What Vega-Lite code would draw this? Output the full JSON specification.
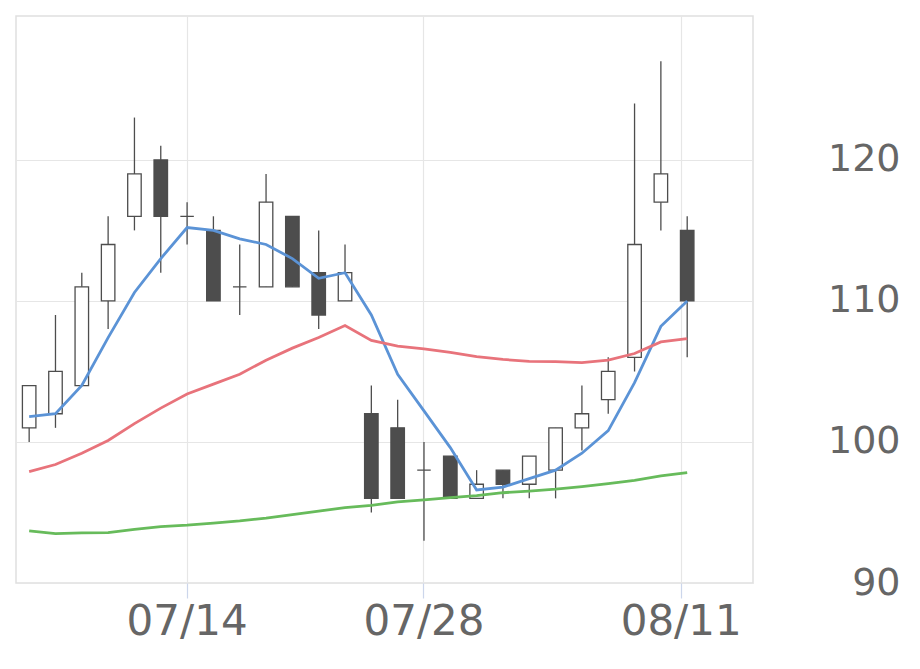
{
  "$schema": "https://vega.github.io/schema/vega-lite/v6.json",
  "width": 737,
  "height": 567,
  "padding": {"left": 16, "top": 16, "right": 0, "bottom": 12},
  "background": "white",
  "config": {"view": {"stroke": "#e0e0e0", "strokeWidth": 1.5}, "font": "DejaVu Sans"},
  "data": {"values": [
    {"d": "07/04", "o": 101, "h": 104, "l": 100, "c": 104, "ma5": 101.8, "ma25": 97.9, "ma75": 93.7},
    {"d": "07/07", "o": 102, "h": 109, "l": 101, "c": 105, "ma5": 102.0, "ma25": 98.4, "ma75": 93.5},
    {"d": "07/08", "o": 104, "h": 112, "l": 104, "c": 111, "ma5": 104.0, "ma25": 99.2, "ma75": 93.55},
    {"d": "07/09", "o": 110, "h": 116, "l": 108, "c": 114, "ma5": 107.4, "ma25": 100.1, "ma75": 93.57},
    {"d": "07/10", "o": 116, "h": 123, "l": 115, "c": 119, "ma5": 110.6, "ma25": 101.3, "ma75": 93.8},
    {"d": "07/11", "o": 120, "h": 121, "l": 112, "c": 116, "ma5": 113.0, "ma25": 102.4, "ma75": 94.0},
    {"d": "07/14", "o": 116, "h": 117, "l": 114, "c": 116, "ma5": 115.2, "ma25": 103.4, "ma75": 94.1},
    {"d": "07/15", "o": 115, "h": 116, "l": 110, "c": 110, "ma5": 115.0, "ma25": 104.1, "ma75": 94.25},
    {"d": "07/16", "o": 111, "h": 114, "l": 109, "c": 111, "ma5": 114.4, "ma25": 104.8, "ma75": 94.4},
    {"d": "07/17", "o": 111, "h": 119, "l": 111, "c": 117, "ma5": 114.0, "ma25": 105.8, "ma75": 94.6},
    {"d": "07/18", "o": 116, "h": 116, "l": 111, "c": 111, "ma5": 113.0, "ma25": 106.65, "ma75": 94.85},
    {"d": "07/22", "o": 112, "h": 115, "l": 108, "c": 109, "ma5": 111.6, "ma25": 107.4, "ma75": 95.1},
    {"d": "07/23", "o": 110, "h": 114, "l": 110, "c": 112, "ma5": 112.0, "ma25": 108.25, "ma75": 95.35},
    {"d": "07/24", "o": 102, "h": 104, "l": 95, "c": 96, "ma5": 109.0, "ma25": 107.2, "ma75": 95.5},
    {"d": "07/25", "o": 101, "h": 103, "l": 96, "c": 96, "ma5": 104.8, "ma25": 106.8, "ma75": 95.75},
    {"d": "07/28", "o": 98, "h": 100, "l": 93, "c": 98, "ma5": 102.2, "ma25": 106.6, "ma75": 95.9},
    {"d": "07/29", "o": 99, "h": 99, "l": 96, "c": 96, "ma5": 99.6, "ma25": 106.35, "ma75": 96.05},
    {"d": "07/30", "o": 96, "h": 98, "l": 96, "c": 97, "ma5": 96.6, "ma25": 106.05, "ma75": 96.2},
    {"d": "07/31", "o": 98, "h": 98, "l": 96, "c": 97, "ma5": 96.8, "ma25": 105.85, "ma75": 96.4},
    {"d": "08/01", "o": 97, "h": 99, "l": 96, "c": 99, "ma5": 97.4, "ma25": 105.72, "ma75": 96.52},
    {"d": "08/04", "o": 98, "h": 101, "l": 96, "c": 101, "ma5": 98.0, "ma25": 105.7, "ma75": 96.65},
    {"d": "08/05", "o": 101, "h": 104, "l": 99.4, "c": 102, "ma5": 99.2, "ma25": 105.63, "ma75": 96.84},
    {"d": "08/06", "o": 103, "h": 106, "l": 102, "c": 105, "ma5": 100.8, "ma25": 105.8, "ma75": 97.05},
    {"d": "08/07", "o": 106, "h": 124, "l": 105, "c": 114, "ma5": 104.2, "ma25": 106.27, "ma75": 97.28},
    {"d": "08/08", "o": 117, "h": 127, "l": 115, "c": 119, "ma5": 108.2, "ma25": 107.09, "ma75": 97.59},
    {"d": "08/12", "o": 115, "h": 116, "l": 106, "c": 110, "ma5": 110.0, "ma25": 107.33, "ma75": 97.83}
  ]},
  "resolve": {"axis": {"x": "independent"}},
  "layer": [
    {
      "mark": {"type": "rule", "color": "#4d4d4d", "strokeWidth": 1.3},
      "encoding": {
        "x": {
          "field": "d",
          "type": "ordinal",
          "scale": {
            "domain": ["07/04", "07/07", "07/08", "07/09", "07/10", "07/11", "07/14", "07/15", "07/16", "07/17", "07/18", "07/22", "07/23", "07/24", "07/25", "07/28", "07/29", "07/30", "07/31", "08/01", "08/04", "08/05", "08/06", "08/07", "08/08", "08/12", "08/13", "08/14"],
            "paddingInner": 0,
            "paddingOuter": 0
          },
          "axis": {
            "orient": "bottom",
            "values": ["07/14", "07/28"],
            "grid": true,
            "gridColor": "#e6e6e6",
            "gridWidth": 1.2,
            "domain": false,
            "tickColor": "#ccd6eb",
            "tickSize": 15,
            "tickWidth": 1.2,
            "labelFontSize": 42,
            "labelColor": "#666666",
            "labelPadding": 3,
            "labelAngle": 0,
            "labelFont": "DejaVu Sans",
            "title": null
          }
        },
        "y": {
          "field": "l",
          "type": "quantitative",
          "scale": {"domain": [90, 130.2], "nice": false, "zero": false},
          "axis": {
            "orient": "right",
            "values": [90, 100, 110, 120],
            "grid": true,
            "gridColor": "#e6e6e6",
            "gridWidth": 1.2,
            "domain": false,
            "ticks": false,
            "labelPadding": 147,
            "labelAlign": "right",
            "labelFontSize": 38,
            "labelColor": "#666666",
            "labelFont": "DejaVu Sans",
            "title": null
          }
        },
        "y2": {"field": "h"}
      }
    },
    {
      "mark": {"type": "bar", "width": 13.5, "stroke": "#4d4d4d", "strokeWidth": 1.3},
      "encoding": {
        "x": {"field": "d", "type": "ordinal", "axis": null},
        "y": {"field": "o", "type": "quantitative"},
        "y2": {"field": "c"},
        "fill": {"condition": {"test": "datum.c < datum.o", "value": "#4d4d4d"}, "value": "#ffffff"}
      }
    },
    {
      "transform": [{"fold": ["ma5", "ma25", "ma75"], "as": ["s", "v"]}],
      "mark": {"type": "line", "strokeWidth": 2.8},
      "encoding": {
        "x": {
          "field": "d",
          "type": "ordinal",
          "axis": {
            "orient": "bottom",
            "values": ["08/12"],
            "bandPosition": 0.3,
            "labelExpr": "'08/11'",
            "labelOffset": -6,
            "grid": true,
            "gridColor": "#e6e6e6",
            "gridWidth": 1.2,
            "domain": false,
            "tickColor": "#ccd6eb",
            "tickSize": 15,
            "tickWidth": 1.2,
            "labelFontSize": 42,
            "labelColor": "#666666",
            "labelPadding": 3,
            "labelAngle": 0,
            "labelFont": "DejaVu Sans",
            "title": null
          }
        },
        "y": {"field": "v", "type": "quantitative"},
        "color": {
          "field": "s",
          "type": "nominal",
          "scale": {"domain": ["ma5", "ma25", "ma75"], "range": ["#5b93d6", "#e8737b", "#67bb5b"]},
          "legend": null
        }
      }
    }
  ]
}
